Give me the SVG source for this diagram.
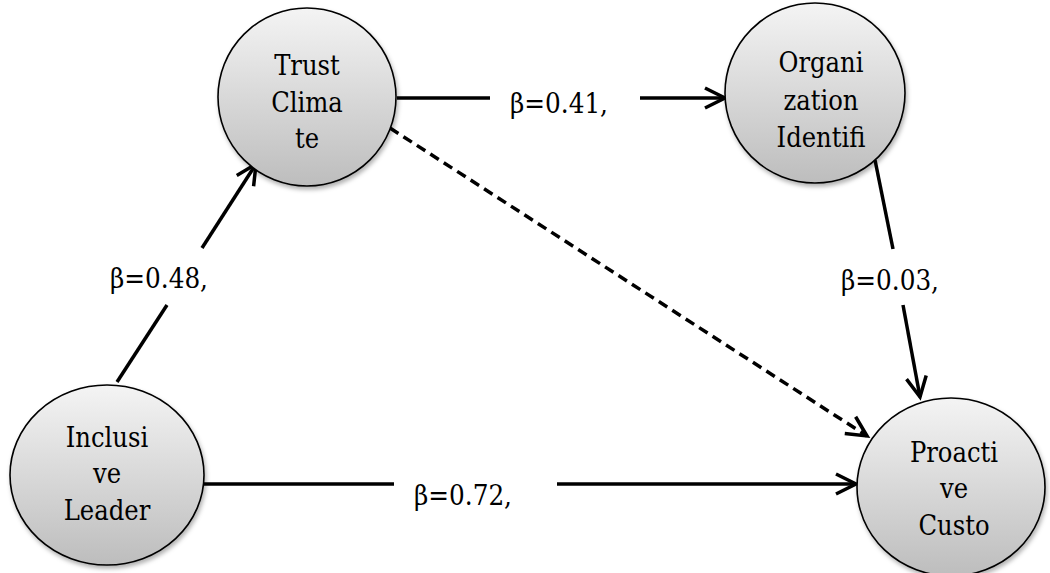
<svg xmlns="http://www.w3.org/2000/svg" width="1050" height="573" viewBox="0 0 1050 573">
<style>
.node{fill:url(#g);stroke:#000;stroke-width:1.6;filter:url(#sh)}
.nt{font-family:'DejaVu Serif Condensed','DejaVu Serif',serif;font-size:27px;fill:#000;text-anchor:middle}
.lb{font-family:'DejaVu Serif Condensed','DejaVu Serif',serif;font-size:27.5px;fill:#000;text-anchor:middle}
.ln{stroke:#000;stroke-width:3.5;fill:none}
.ar{marker-end:url(#ah)}
.da{stroke-dasharray:10 6}
</style>
<defs>
<linearGradient id="g" x1="0" y1="0" x2="0" y2="1">
<stop offset="0" stop-color="#f4f4f4"/>
<stop offset="1" stop-color="#bdbdbd"/>
</linearGradient>
<filter id="sh" x="-20%" y="-20%" width="140%" height="140%">
<feDropShadow dx="1.5" dy="3" stdDeviation="2" flood-color="#000" flood-opacity="0.3"/>
</filter>
<marker id="ah" markerUnits="userSpaceOnUse" viewBox="-24 -14 28 28" refX="0" refY="0" markerWidth="28" markerHeight="28" orient="auto">
<path d="M-20,-10 L0,0 L-20,10" fill="none" stroke="#000" stroke-width="3.5"/>
</marker>
</defs>
<g id="connectors">
<line class="ln" x1="397" y1="98" x2="490" y2="98"/>
<line class="ln ar" x1="640" y1="98" x2="725" y2="98"/>
<line class="ln" x1="117" y1="382" x2="167" y2="305"/>
<line class="ln ar" x1="202" y1="248" x2="256" y2="164"/>
<line class="ln" x1="875" y1="160" x2="893" y2="249"/>
<line class="ln ar" x1="903" y1="305" x2="920" y2="397"/>
<line class="ln" x1="204" y1="484" x2="394" y2="484"/>
<line class="ln ar" x1="557" y1="484" x2="856" y2="484"/>
<line class="ln ar da" x1="390" y1="128" x2="867" y2="436"/>
<text class="lb" x="559" y="113">β=0.41,</text>
<text class="lb" x="159" y="288">β=0.48,</text>
<text class="lb" x="890" y="290">β=0.03,</text>
<text class="lb" x="463" y="505">β=0.72,</text>
</g>
<g id="trust">
<ellipse class="node" cx="307" cy="97" rx="89" ry="89"/>
<text class="nt" x="307" y="75">Trust</text>
<text class="nt" x="307" y="112">Clima</text>
<text class="nt" x="307" y="148">te</text>
</g>
<g id="org">
<ellipse class="node" cx="815" cy="93" rx="90" ry="90"/>
<text class="nt" x="821" y="72">Organi</text>
<text class="nt" x="821" y="110">zation</text>
<text class="nt" x="821" y="147">Identifi</text>
</g>
<g id="inclusive">
<ellipse class="node" cx="107" cy="475" rx="97" ry="90"/>
<text class="nt" x="107" y="447">Inclusi</text>
<text class="nt" x="107" y="483">ve</text>
<text class="nt" x="107" y="520">Leader</text>
</g>
<g id="proactive">
<ellipse class="node" cx="951" cy="487" rx="94" ry="89"/>
<text class="nt" x="954" y="462">Proacti</text>
<text class="nt" x="954" y="498">ve</text>
<text class="nt" x="954" y="535">Custo</text>
</g>
</svg>
